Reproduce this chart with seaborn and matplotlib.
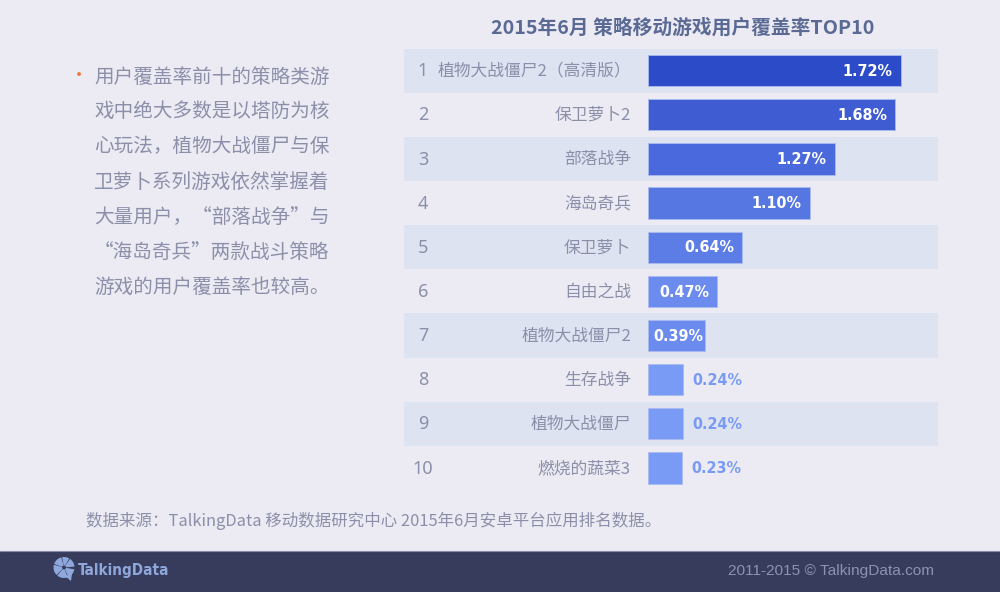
import matplotlib
matplotlib.use("Agg")
import matplotlib.pyplot as plt
from matplotlib.patches import Polygon, Rectangle, Wedge
import pandas as pd
import seaborn as sns

#Data
ranks = ["1", "2", "3", "4", "5", "6", "7", "8", "9", "10"]
games = ["植物大战僵尸2（高清版）", "保卫萝卜2", "部落战争", "海岛奇兵", "保卫萝卜",
         "自由之战", "植物大战僵尸2", "生存战争", "植物大战僵尸", "燃烧的蔬菜3"]
coverage = [1.72, 1.68, 1.27, 1.10, 0.64, 0.47, 0.39, 0.24, 0.24, 0.23]
bar_colors = ["#2b4bc8", "#3f5cd2", "#4a69dc", "#5676e2", "#5d7de6",
              "#6b8cee", "#6b8cee", "#7a9bf5", "#7a9bf5", "#7a9bf5"]
title = "2015年6月 策略移动游戏用户覆盖率TOP10"
note_lines = ["用户覆盖率前十的策略类游", "戏中绝大多数是以塔防为核", "心玩法，植物大战僵尸与保",
              "卫萝卜系列游戏依然掌握着", "大量用户，“部落战争”与", "“海岛奇兵”两款战斗策略",
              "游戏的用户覆盖率也较高。"]
source = "数据来源：TalkingData 移动数据研究中心 2015年6月安卓平台应用排名数据。"
brand = "TalkingData"
copyright_text = "2011-2015 © TalkingData.com"

bg_color = "#ecebf3"
band_color = "#dee3f1"
footer_color = "#373b5c"
text_color = "#8b8fa9"
title_color = "#5a6a94"
value_color = "#7a9bf5"
logo_color = "#8fa8dc"

sns.set_theme(style="white")
plt.rcParams["font.family"] = ["Noto Sans CJK SC", "DejaVu Sans"]
#condensed face for the value labels and the brand name
cond = dict(family="DejaVu Sans", stretch="condensed", fontweight="bold")

W, H = 1000, 592
fig = plt.figure(figsize=(W / 100, H / 100), dpi=100, facecolor=bg_color)

#Background layer works in pixels, top left origin, like the picture
bg = fig.add_axes([0, 0, 1, 1], zorder=0)
bg.set_xlim(0, W)
bg.set_ylim(H, 0)
bg.axis("off")

#Footer
bg.add_patch(Rectangle((0, 551), W, 41, fc=footer_color, ec="none"))
bg.plot([0, W], [551, 551], color="#8a8ea8", lw=0.8)
bg.text(934, 571.5, copyright_text, ha="right", va="center", fontsize=11.1,
        color="#8d93ae", family="Liberation Sans")
bg.text(78, 570.5, brand, ha="left", va="center", fontsize=11, color=logo_color, **cond)

#Logo, a wheel with a speech bubble tail
for a1, a2 in [(10, 65), (70, 130), (135, 195), (200, 255), (260, 300), (305, 355)]:
    bg.add_patch(Wedge((64, 567.5), 10.5, a1, a2, width=8.5, fc=logo_color, ec="none"))
bg.add_patch(Polygon([(65, 576), (72, 574), (71, 581)], fc=logo_color, ec="none"))

#Left note
bg.text(79, 76, "•", ha="center", va="center", fontsize=13, color="#f0783c")
note_y = [77.5, 111.5, 146.5, 182.5, 217.5, 252.5, 287.5]
for line, y in zip(note_lines, note_y):
    bg.text(94, y, line, ha="left", va="center", fontsize=14.1, color=text_color)

#Title and source
bg.text(683, 27.5, title, ha="center", va="center", fontsize=14.2, fontweight="bold", color=title_color)
bg.text(86, 520.5, source, ha="left", va="center", fontsize=11.85, color=text_color)

#Chart axes sit over the band area, bars start at x=648 px
left, right, top, bottom = 404, 938, 48.5, 490
ax = fig.add_axes([left / W, 1 - bottom / H, (right - left) / W, (bottom - top) / H], zorder=1)
ax.patch.set_alpha(0)
px_per_unit = 147.0
df = pd.DataFrame({"game": games, "coverage": coverage})
sns.barplot(data=df, y="game", x="coverage", hue="game", palette=bar_colors, legend=False,
            width=0.71, edgecolor="#a9bbf0", linewidth=0.6, saturation=1, ax=ax, zorder=3)
ax.set_xlim(-(648 - left) / px_per_unit, (right - 648) / px_per_unit)
ax.set_ylim(9.5, -0.5)
ax.axis("off")

#Alternate row bands
for i in range(0, len(games), 2):
    ax.axhspan(i - 0.5, i + 0.5, color=band_color, lw=0, zorder=1)

for i, (rank, game, v) in enumerate(zip(ranks, games, coverage)):
    ax.annotate(rank, (0, i), xytext=(-225 * 0.72, -0.5), textcoords="offset points",
                ha="center", va="center", fontsize=13, color=text_color, family="Noto Sans")
    ax.annotate(game, (0, i), xytext=(-17 * 0.72, -0.5), textcoords="offset points",
                ha="right", va="center", fontsize=12.1, color=text_color)
    if v > 0.3:
        gap = -2 if v < 0.4 else -8
        ax.annotate(f"{v:.2f}%", (v, i), xytext=(gap * 0.72, -0.5), textcoords="offset points", ha="right",
                    va="center", fontsize=11.5, color="white", zorder=5, **cond)
    else:
        ax.annotate(f"{v:.2f}%", (v, i), xytext=(9.5 * 0.72, -0.5), textcoords="offset points", ha="left",
                    va="center", fontsize=11.5, color=value_color, zorder=5, **cond)

fig.savefig("out.png", dpi=100, facecolor=bg_color)
